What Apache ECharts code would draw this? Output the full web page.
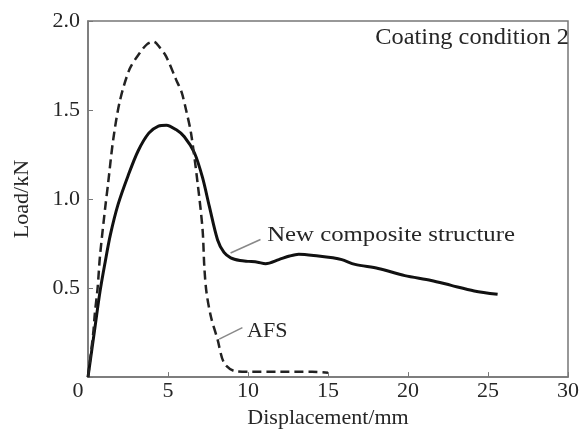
<!DOCTYPE html>
<html>
<head>
<meta charset="utf-8">
<script src="https://cdn.jsdelivr.net/npm/echarts@6/dist/echarts.min.js"></script>
<style>
  html, body { margin: 0; padding: 0; background: #fff; }
  #chart { width: 582px; height: 434px; }
</style>
</head>
<body>
<div id="chart"></div>
<script>
// displacement (mm), load (kN)
var newComposite = [
    [0, 0], [0.39, 0.25], [0.75, 0.48], [1.06, 0.64], [1.4, 0.8], [1.88, 0.97],
    [2.5, 1.13], [3.13, 1.27], [3.8, 1.37], [4.4, 1.41], [4.9, 1.415], [5.5, 1.39],
    [6.02, 1.35], [6.65, 1.26], [7.16, 1.12], [7.58, 0.96], [8.1, 0.77], [8.5, 0.7],
    [8.92, 0.67], [9.5, 0.655], [10.06, 0.65], [10.6, 0.645], [11.1, 0.637],
    [11.93, 0.66], [12.6, 0.68], [13.17, 0.69], [14.4, 0.68], [15.3, 0.67],
    [15.86, 0.66], [16.69, 0.633], [18.14, 0.61], [19.8, 0.57], [21.45, 0.543],
    [22.7, 0.515], [24.14, 0.484], [25.6, 0.465]
];
var afs = [
    [0, 0], [0.33, 0.25], [0.43, 0.36], [0.6, 0.5], [0.75, 0.68], [1.06, 0.94],
    [1.26, 1.09], [1.57, 1.33], [1.99, 1.55], [2.6, 1.73], [3.23, 1.82], [3.7, 1.87],
    [4.1, 1.884], [4.5, 1.85], [4.89, 1.8], [5.51, 1.67], [5.85, 1.6], [6.13, 1.5],
    [6.44, 1.37], [6.85, 1.09], [7.16, 0.83], [7.27, 0.62], [7.4, 0.48], [7.68, 0.34],
    [8.1, 0.21], [8.5, 0.08], [9.13, 0.035], [10, 0.03], [12, 0.03], [14, 0.03], [15, 0.025]
];
// annotation anchors in data space: [line start, line end, text position]
var ncLabel = [[8.91, 0.697], [10.78, 0.773], [11.2, 0.795]];
var afsLabel = [[8.2, 0.213], [9.65, 0.278], [9.94, 0.258]];

var font = 'Liberation Serif';
var axisGray = '#777';
var textColor = '#262626';

var chart = echarts.init(document.getElementById('chart'));
var option = {
    animation: false,
    grid: {
        left: 88, right: 10, top: 21, bottom: 56,
        show: true, borderColor: axisGray, borderWidth: 1.5
    },
    xAxis: {
        type: 'value',
        min: 0, max: 30, interval: 5,
        name: 'Displacement/mm',
        nameLocation: 'middle',
        nameGap: 28,
        nameTextStyle: { fontFamily: font, fontSize: 22, color: textColor },
        axisLine: { lineStyle: { color: axisGray, width: 1.5 } },
        axisTick: { inside: true, length: 5, lineStyle: { color: axisGray } },
        splitLine: { show: false },
        axisLabel: {
            fontFamily: font, fontSize: 22, color: textColor, margin: 3,
            formatter: function (v) { return v === 0 ? '{o|0}' : v; },
            rich: { o: { fontFamily: font, fontSize: 22, color: textColor, padding: [0, 20, 0, 0] } }
        }
    },
    yAxis: {
        type: 'value',
        min: 0, max: 2, interval: 0.5,
        name: 'Load/kN',
        nameLocation: 'middle',
        nameGap: 55,
        nameTextStyle: { fontFamily: font, fontSize: 22, color: textColor },
        axisLine: { lineStyle: { color: axisGray, width: 1.5 } },
        axisTick: { inside: true, length: 5, lineStyle: { color: axisGray } },
        splitLine: { show: false },
        axisLabel: {
            fontFamily: font, fontSize: 22, color: textColor, margin: 8,
            formatter: function (v) { return v === 0 ? '' : v.toFixed(1); }
        }
    },
    series: [
        {
            name: 'New composite structure',
            type: 'line',
            data: newComposite,
            smooth: 0.3,
            showSymbol: false,
            lineStyle: { color: '#111', width: 3 }
        },
        {
            name: 'AFS',
            type: 'line',
            data: afs,
            smooth: 0.3,
            showSymbol: false,
            lineStyle: { color: '#222', width: 2.5, type: [9, 5] }
        }
    ]
};
chart.setOption(option);

function px(p) { return chart.convertToPixel({ gridIndex: 0 }, p); }
function annotation(anchors, text, stretch) {
    var a = px(anchors[0]), b = px(anchors[1]), t = px(anchors[2]);
    return [
        {
            type: 'line',
            shape: { x1: a[0], y1: a[1], x2: b[0], y2: b[1] },
            style: { stroke: '#888', lineWidth: 1.5 }
        },
        {
            type: 'text', x: t[0], y: t[1], scaleX: stretch,
            style: { text: text, font: '21px "' + font + '"', fill: textColor, textVerticalAlign: 'middle' }
        }
    ];
}
var graphics = annotation(ncLabel, 'New composite structure', 1.18)
    .concat(annotation(afsLabel, 'AFS', 1.05));
graphics.push({
    type: 'text', x: 569, y: 38, scaleX: 1.06,
    style: { text: 'Coating condition 2', font: '23px "' + font + '"', fill: textColor, textAlign: 'right', textVerticalAlign: 'middle' }
});
chart.setOption({ graphic: graphics });
</script>
</body>
</html>
